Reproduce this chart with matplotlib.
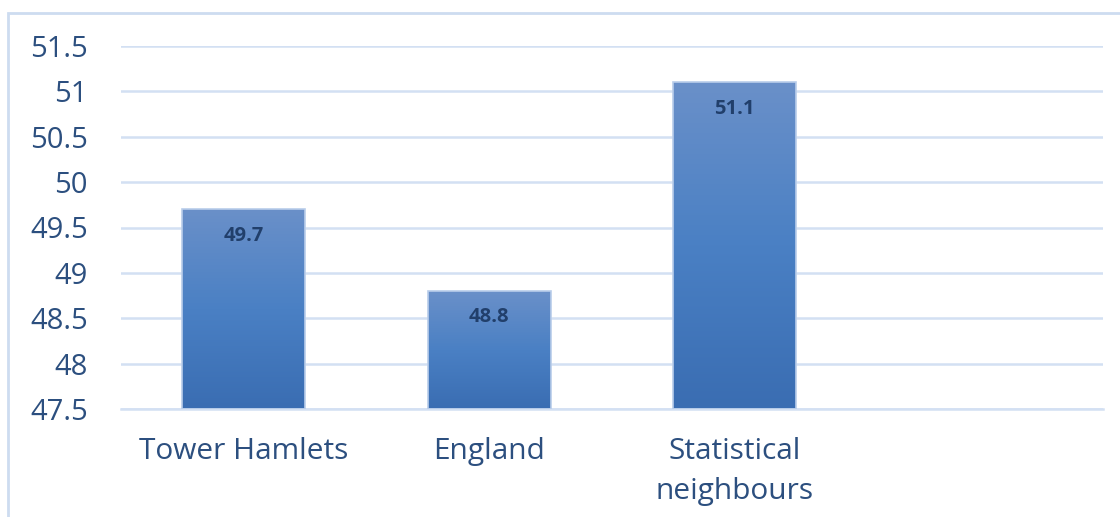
import matplotlib
matplotlib.use("Agg")
import matplotlib.pyplot as plt
import numpy as np
from matplotlib.patches import Rectangle
from matplotlib.colors import LinearSegmentedColormap

categories = ["Tower Hamlets", "England", "Statistical\nneighbours", ""]
values = [49.7, 48.8, 51.1, None]
yticks = [47.5, 48, 48.5, 49, 49.5, 50, 50.5, 51, 51.5]
ytick_labels = ["47.5", "48", "48.5", "49", "49.5", "50", "50.5", "51", "51.5"]

text_color = "#2c4f7f"
label_color = "#213f6b"
grid_color = "#d3e0f3"

plt.rcParams['font.family'] = ['Open Sans', 'DejaVu Sans']

fig = plt.figure(figsize=(11.2, 5.17), dpi=100)
ax = fig.add_axes([121/1120, 1-409/517, (1103-121)/1120, (409-46)/517])

ymin, ymax = 47.5, 51.5

cmap = LinearSegmentedColormap.from_list("g", ["#3a6db2", "#4a80c4", "#6a90c9"])
grad = np.linspace(0, 1, 256).reshape(-1, 1)

xs = np.arange(len(categories))
for x, v in zip(xs, values):
    if v is None:
        continue
    bars = ax.bar(x, v - ymin, bottom=ymin, width=0.5, color="none",
                  edgecolor="#b9cdea", linewidth=1.2, zorder=3)
    b = bars[0]
    im = ax.imshow(grad, cmap=cmap, origin="lower", aspect="auto",
                   extent=[x - 0.25, x + 0.25, ymin, v], zorder=2.5)
    im.set_clip_path(b)
    ax.annotate(f"{v}", xy=(x, v), xytext=(0, -19), textcoords="offset points",
                ha="center", va="center", fontsize=14.5, fontweight="bold",
                color=label_color, zorder=4)

ax.set_xlim(-0.5, len(categories) - 0.5)
ax.set_ylim(ymin, ymax)

ax.set_yticks(yticks)
ax.set_yticklabels(ytick_labels)
ax.set_xticks(xs)
ax.set_xticklabels(categories, linespacing=1.5)
ax.tick_params(axis="y", length=0, pad=24, labelsize=21, labelcolor=text_color)
ax.tick_params(axis="x", length=0, pad=20, labelsize=21.5, labelcolor=text_color)

ax.grid(axis="y", color=grid_color, linewidth=1.8, zorder=0)
ax.set_axisbelow(True)
for s in ["top", "right", "left"]:
    ax.spines[s].set_visible(False)
ax.spines["bottom"].set_color(grid_color)
ax.spines["bottom"].set_linewidth(1.8)

fig.patches.append(Rectangle((8/1120, -0.05), 1.1, 1 - 13/517 + 0.05,
                             transform=fig.transFigure, fill=False,
                             edgecolor="#cddcf0", linewidth=2, zorder=0))

fig.savefig("out.png", dpi=100)
